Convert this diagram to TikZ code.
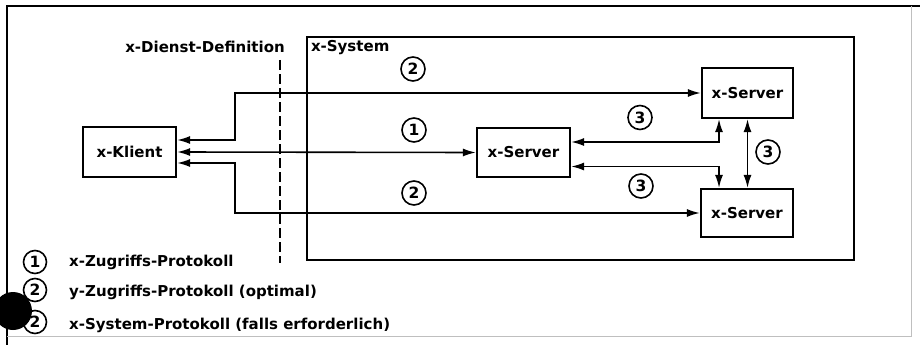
\documentclass[tikz,border=0pt]{standalone}
\usepackage{fontspec}
\setmainfont{DejaVu Sans}
\usetikzlibrary{arrows.meta}

\tikzset{
  lbl/.style={font=\fontsize{15}{17}\selectfont\bfseries, inner sep=0pt},
  srvbox/.style={draw, line width=2.2pt, inner sep=0pt, minimum width=92pt,
    minimum height=48pt, font=\fontsize{15}{17}\selectfont\bfseries},
  sysbox/.style={draw, line width=2.4pt, inner sep=0pt},
  conn/.style={line width=1.6pt, {Latex[length=13pt,width=8pt]}-{Latex[length=13pt,width=8pt]}},
  num/.style={circle, draw, line width=1.6pt, inner sep=0pt, minimum size=24pt,
    font=\fontsize{15.5}{15.5}\selectfont\bfseries},
  lgnum/.style={num, minimum size=23pt},
  boundary/.style={line width=1.6pt, dash pattern=on 10pt off 4pt},
  frameline/.style={line width=2.4pt},
  faintline/.style={line width=1pt, black!25}
}

\begin{document}
\begin{tikzpicture}[x=1pt, y=-1pt]
  \useasboundingbox (0,0) rectangle (920,345);

  % page frame
  \draw[frameline] (7,345) -- (7,6) -- (920,6);
  \draw[faintline] (911,6) -- (911,336) -- (7,336);

  % system boundary
  \node[sysbox, minimum width=547pt, minimum height=223pt] (sys) at (580.5,148.5) {};
  \node[lbl, anchor=north west] (syslbl) at ([xshift=5pt,yshift=-4pt]sys.north west) {x-System};

  % service definition boundary
  \coordinate (dtop) at (280,60);
  \coordinate (dbot) at (280,263);
  \draw[boundary] (dtop) -- (dbot);
  \node[lbl, anchor=east] (dlbl) at (285,47) {x-Dienst-Definition};

  % client and servers
  \node[srvbox, minimum width=93pt, minimum height=50pt] (klient) at (129.5,152) {x-Klient};
  \node[srvbox, minimum width=93pt, minimum height=49pt] (midsrv) at (523.5,152.5) {x-Server};
  \node[srvbox, minimum width=91pt, minimum height=50pt] (topsrv) at (747.5,93) {x-Server};
  \node[srvbox] (botsrv) at (747,213) {x-Server};

  % client connectors
  \coordinate (fork) at (235,0);
  \draw[conn] ([yshift=12pt]klient.east) -| (fork |- topsrv.west) -- (topsrv.west);
  \draw[conn] (klient.east) -- (midsrv.west);
  \draw[conn] ([yshift=-11pt]klient.east) -| (fork |- botsrv.west) -- (botsrv.west);

  % server connectors
  \draw[conn] ([yshift=10.5pt]midsrv.east) -| ([xshift=-28.5pt]topsrv.south);
  \draw[conn] ([yshift=-14pt]midsrv.east) -| ([xshift=-28pt]botsrv.north);
  \draw[conn] (topsrv.south) -- (topsrv.south |- botsrv.north);

  % protocol markers
  \node[num] (p2a) at (413,69) {2};
  \node[num] (p1) at (414,130) {1};
  \node[num] (p2b) at (414,193) {2};
  \node[num] (p3a) at (640,117.5) {3};
  \node[num] (p3b) at (768,152) {3};
  \node[num] (p3c) at (641,186) {3};

  % legend
  \node[lgnum] (l1) at (35,262) {1};
  \node[lgnum] (l2) at (35,290) {2};
  \node[lgnum] (l3) at (35,322) {2};
  \node[lbl, anchor=base west] (t1) at (69,266) {x-Zugriffs-Protokoll};
  \node[lbl, anchor=base west] (t2) at (69,296) {y-Zugriffs-Protokoll (optimal)};
  \node[lbl, anchor=base west] (t3) at (69,329) {x-System-Protokoll (falls erforderlich)};

  % punch hole
  \fill (13,311) circle (19);
\end{tikzpicture}
\end{document}
